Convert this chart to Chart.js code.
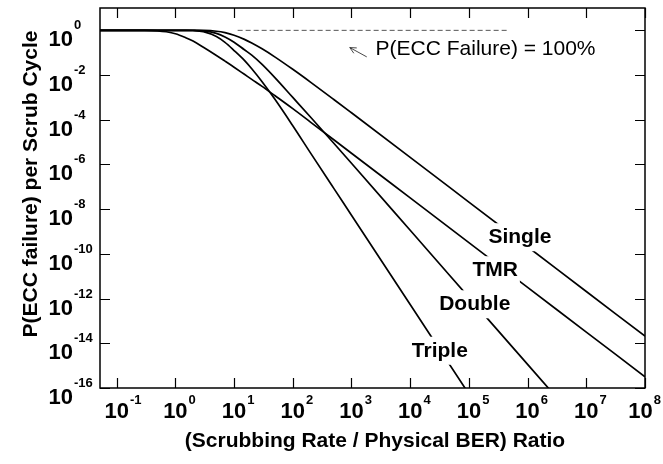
<!DOCTYPE html>
<html>
<head>
<meta charset="utf-8">
<script src="https://cdn.jsdelivr.net/npm/chart.js@4.4.0/dist/chart.umd.min.js"></script>
<style>
  html, body { margin: 0; padding: 0; background: #fff; }
  canvas { display: block; }
</style>
</head>
<body>
<canvas id="eccChart" width="663" height="464"></canvas>
<script>
// scrubbing rate / physical BER ratio (x samples)
const ratio = [0.05, 0.1, 0.2, 0.3, 0.5, 0.7, 1, 1.5, 2, 3, 5, 7, 10, 15, 20, 30, 50, 100, 200, 500, 1e3, 1e4, 1e5, 1e6, 1e7, 1e8];

// P(ECC failure) per scrub cycle
const single = [1, 1, 1, 1, 1, 1, 1, 1, 0.9996, 0.991, 0.914, 0.788, 0.605, 0.394, 0.272, 0.149, 0.0637, 0.0181, 4.86e-3, 8.1e-4, 2.05e-4, 2.08e-6, 2.08e-8, 2.08e-10, 2.08e-12, 2.08e-14];
const tmr    = [1, 1, 1, 0.997, 0.955, 0.866, 0.709, 0.47, 0.33, 0.175, 0.075, 0.042, 0.0225, 0.0108, 0.0064, 0.0031, 1.18e-3, 3.13e-4, 7.89e-5, 1.27e-5, 3.18e-6, 3.18e-8, 3.18e-10, 3.18e-12, 3.18e-14, 3.18e-16];
const double = [1, 1, 1, 1, 1, 1, 1, 0.9997, 0.9958, 0.951, 0.731, 0.51, 0.296, 0.135, 0.078, 0.03, 7.5e-3, 1.0e-3, 1.33e-4, 8.89e-6, 1.13e-6, 1.14e-9, 1.14e-12, 1.14e-15, 1.14e-18, 1.14e-21];
const triple = [1, 1, 1, 1, 1, 1, 1, 0.9986, 0.985, 0.876, 0.527, 0.289, 0.125, 0.045, 0.019, 0.005, 8.0e-4, 5.4e-5, 3.3e-6, 8.5e-8, 5.4e-9, 5.4e-13, 5.4e-17, 5.4e-21, 5.4e-25, 5.4e-29];

// dashed 100% reference line
const refX = [11.5, 4.5e5];
const refY = [1, 1];

// tick exponents
const xTickExp = [-1, 0, 1, 2, 3, 4, 5, 6, 7, 8];
const yTickExp = [0, -2, -4, -6, -8, -10, -12, -14, -16];

const FONT = '"Liberation Sans", Arial, Helvetica, sans-serif';

// where the curve names sit (data units)
const curveLabels = [
  { text: 'Single', x: 7.4e5, y: 3.0e-10 },
  { text: 'TMR',    x: 2.8e5, y: 1.0e-11 },
  { text: 'Double', x: 1.26e5, y: 3.0e-13 },
  { text: 'Triple', x: 3.2e4, y: 2.5e-15 }
];
const note = { text: 'P(ECC Failure) = 100%', x: 2570, y: 0.079 };
const arrowFrom = [1820, 0.065];
const arrowTo = [935, 0.17];

const pts = (xs, ys) => xs.map((v, i) => ({ x: v, y: ys[i] }));

const curve = (label, ys) => ({
  label,
  data: pts(ratio, ys),
  borderColor: '#000',
  borderWidth: 1.7,
  pointRadius: 0,
  cubicInterpolationMode: 'monotone',
  fill: false
});

const decor = {
  id: 'decor',
  afterDatasetsDraw(chart) {
    const { ctx, scales: { x, y } } = chart;
    ctx.save();
    // curve labels on white patches
    ctx.font = 'bold 21px ' + FONT;
    ctx.textAlign = 'left';
    ctx.textBaseline = 'alphabetic';
    curveLabels.forEach(l => {
      const w = ctx.measureText(l.text).width;
      const cx = x.getPixelForValue(l.x);
      const by = y.getPixelForValue(l.y);
      ctx.fillStyle = '#fff';
      ctx.fillRect(cx - w / 2 - 2, by - 20, w + 4, 28);
      ctx.fillStyle = '#000';
      ctx.fillText(l.text, cx - w / 2, by);
    });

    // note + arrow
    ctx.font = '21px ' + FONT;
    ctx.fillStyle = '#000';
    ctx.fillText(note.text, x.getPixelForValue(note.x), y.getPixelForValue(note.y));
    const x0 = x.getPixelForValue(arrowFrom[0]), y0 = y.getPixelForValue(arrowFrom[1]);
    const x1 = x.getPixelForValue(arrowTo[0]), y1 = y.getPixelForValue(arrowTo[1]);
    const ang = Math.atan2(y1 - y0, x1 - x0);
    ctx.strokeStyle = '#333';
    ctx.lineWidth = 0.9;
    ctx.beginPath();
    ctx.moveTo(x0, y0); ctx.lineTo(x1, y1);
    ctx.moveTo(x1 - 7 * Math.cos(ang - 0.45), y1 - 7 * Math.sin(ang - 0.45));
    ctx.lineTo(x1, y1);
    ctx.lineTo(x1 - 7 * Math.cos(ang + 0.45), y1 - 7 * Math.sin(ang + 0.45));
    ctx.stroke();
    ctx.restore();
  },
  afterDraw(chart) {
    const { ctx, chartArea: a, scales: { x, y } } = chart;
    ctx.save();
    ctx.strokeStyle = '#000';
    ctx.lineWidth = 1.5;
    ctx.strokeRect(a.left, a.top, a.right - a.left, a.bottom - a.top);

    // inward ticks on all four sides
    ctx.lineWidth = 1.2;
    ctx.beginPath();
    xTickExp.forEach(e => {
      const px = Math.round(x.getPixelForValue(Math.pow(10, e))) + 0.5;
      ctx.moveTo(px, a.bottom); ctx.lineTo(px, a.bottom - 10);
      ctx.moveTo(px, a.top); ctx.lineTo(px, a.top + 10);
    });
    yTickExp.forEach(e => {
      const py = Math.round(y.getPixelForValue(Math.pow(10, e))) + 0.5;
      ctx.moveTo(a.left, py); ctx.lineTo(a.left + 10, py);
      ctx.moveTo(a.right, py); ctx.lineTo(a.right - 10, py);
    });
    ctx.stroke();

    // tick labels, 10 with superscript exponent
    ctx.fillStyle = '#000';
    ctx.textBaseline = 'alphabetic';
    ctx.textAlign = 'left';
    const baseFont = 'bold 22px ' + FONT, expFont = 'bold 13px ' + FONT;
    xTickExp.forEach(e => {
      const px = x.getPixelForValue(Math.pow(10, e));
      ctx.font = baseFont;
      const wb = ctx.measureText('10').width;
      ctx.font = expFont;
      const we = ctx.measureText(String(e)).width;
      let left = px - wb / 2;
      if (left + wb + we > 660) left = 660 - wb - we;
      ctx.font = baseFont;
      ctx.fillText('10', left, a.bottom + 30);
      ctx.font = expFont;
      ctx.fillText(String(e), left + wb + 1, a.bottom + 16);
    });
    yTickExp.forEach(e => {
      const py = y.getPixelForValue(Math.pow(10, e));
      ctx.font = baseFont;
      const wb = ctx.measureText('10').width;
      ctx.fillText('10', 73 - wb, py + 16);
      ctx.font = expFont;
      ctx.fillText(String(e), 74, py - 1);
    });

    // axis titles
    ctx.font = 'bold 21px ' + FONT;
    ctx.textAlign = 'center';
    ctx.textBaseline = 'middle';
    ctx.fillText('(Scrubbing Rate / Physical BER) Ratio', 375, 441);
    ctx.translate(31, 184);
    ctx.rotate(-Math.PI / 2);
    ctx.fillText('P(ECC failure) per Scrub Cycle', 0, 0);
    ctx.restore();
  }
};

new Chart(document.getElementById('eccChart'), {
  type: 'line',
  data: {
    datasets: [
      curve('Single', single),
      curve('TMR', tmr),
      curve('Double', double),
      curve('Triple', triple),
      {
        label: '100%',
        data: pts(refX, refY),
        borderColor: '#555',
        borderWidth: 1,
        borderDash: [5, 3],
        pointRadius: 0,
        fill: false
      }
    ]
  },
  options: {
    responsive: false,
    animation: false,
    layout: { padding: { left: 100, right: 18, top: 8, bottom: 76 } },
    plugins: { legend: { display: false }, tooltip: { enabled: false } },
    scales: {
      x: { type: 'logarithmic', display: false, min: Math.pow(10, -1.284), max: 1e8 },
      y: { type: 'logarithmic', display: false, min: 1e-16, max: 10 }
    }
  },
  plugins: [decor]
});
</script>
</body>
</html>
